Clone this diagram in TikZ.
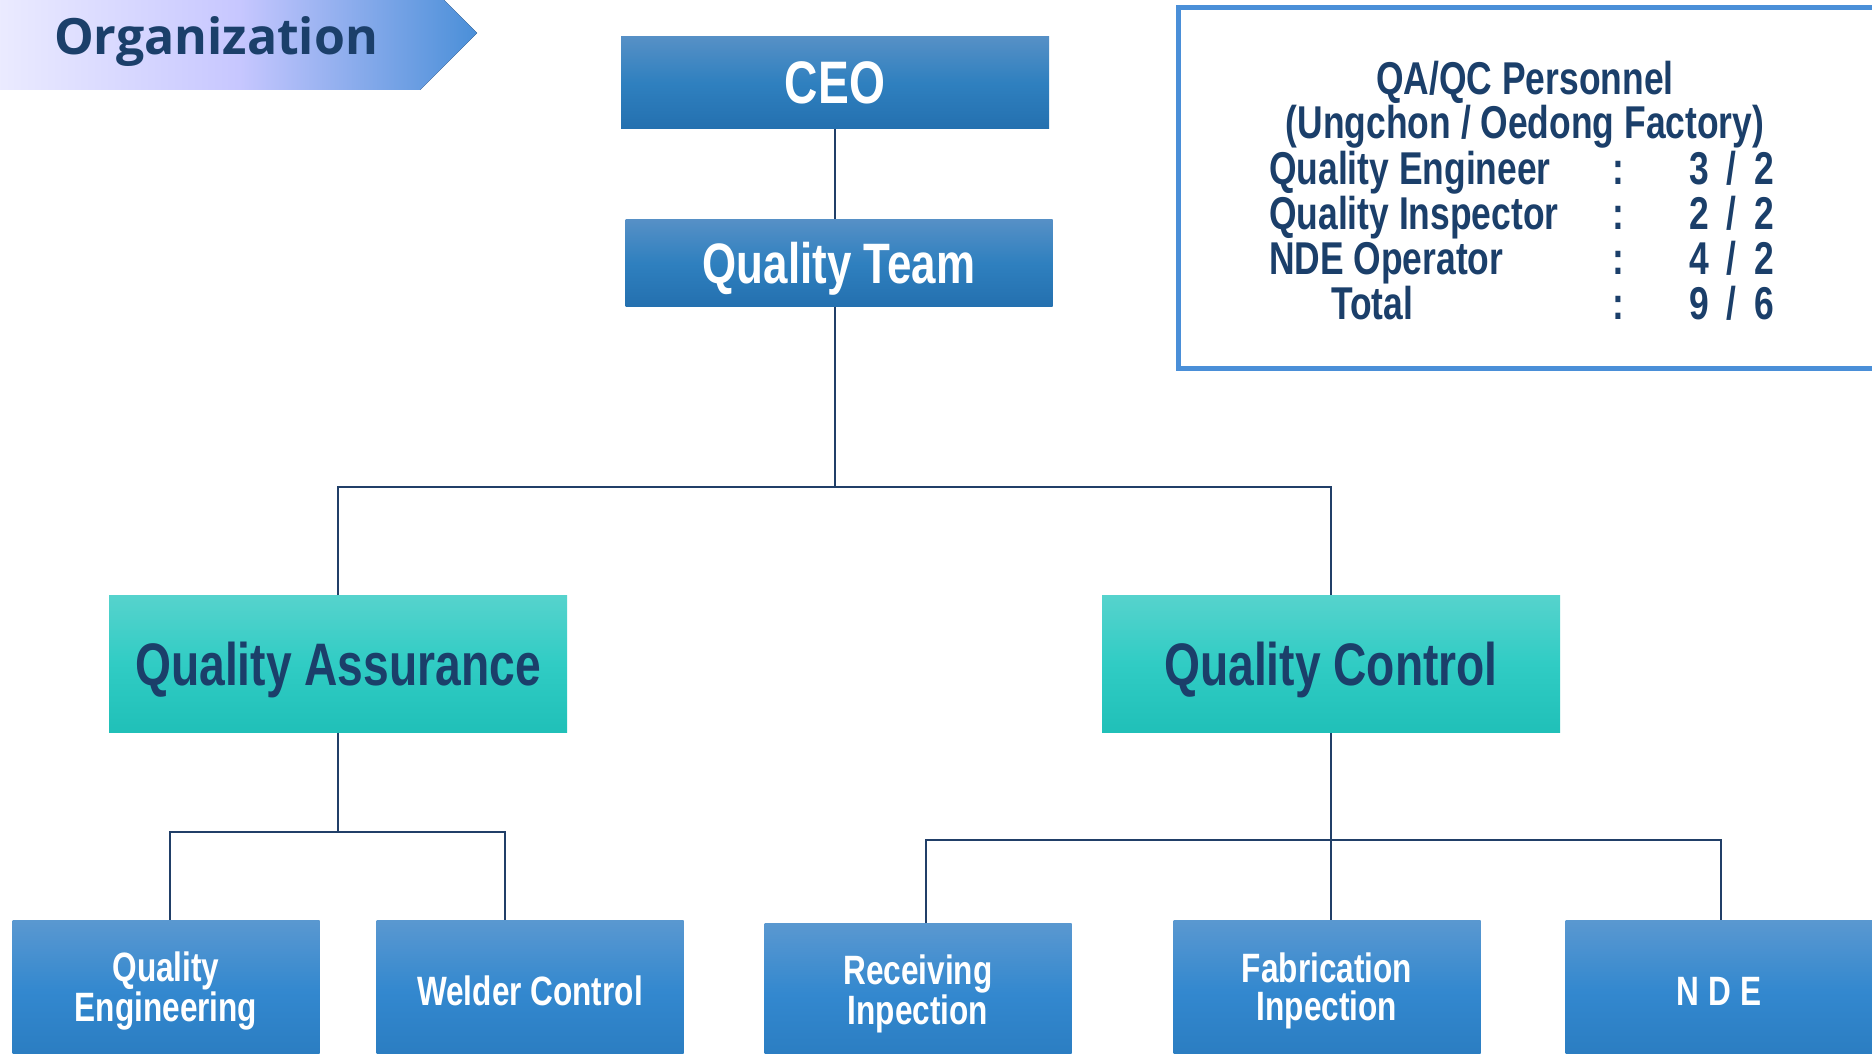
\documentclass[tikz,border=0pt]{standalone}
\usepackage{fontspec}
\setmainfont{Liberation Sans}
\newfontfamily\condfont[FakeStretch=0.77]{Liberation Sans}
\newfontfamily\bannerfont{Open Sans}
\definecolor{ink}{HTML}{1B3F6A}
\definecolor{wire}{HTML}{213F68}
\definecolor{boxtop}{HTML}{5690C6}
\definecolor{boxmid}{HTML}{2F80BF}
\definecolor{boxbot}{HTML}{2470AF}
\definecolor{subtop}{HTML}{5A98D0}
\definecolor{submid}{HTML}{3388CF}
\definecolor{subbot}{HTML}{2A7CC0}
\definecolor{tealtop}{HTML}{56D3CD}
\definecolor{tealmid}{HTML}{30CCC4}
\definecolor{tealbot}{HTML}{20C0B8}
\definecolor{frame}{HTML}{4A8FD8}
\begin{document}
\begin{tikzpicture}[x=1pt,y=-1pt,
	head/.style={inner sep=0pt, text depth=0pt, text=white, top color=boxtop, bottom color=boxbot, middle color=boxmid},
	unit/.style={inner sep=0pt, text depth=0pt, minimum width=458pt, minimum height=137pt, text=ink,
		top color=tealtop, bottom color=tealbot, middle color=tealmid, font=\condfont\bfseries\fontsize{60}{60}\selectfont},
	task/.style={inner sep=0pt, minimum width=307pt, minimum height=142pt, text=white, align=center,
		top color=subtop, bottom color=subbot, middle color=submid, font=\condfont\bfseries\fontsize{41}{38}\selectfont},
	info/.style={inner sep=0pt, text=ink, font=\condfont\bfseries\fontsize{46}{46}\selectfont},
	wire/.style={draw=wire, line width=2pt}]
	\clip (0,0) rectangle (1872,1054);
	\fill[white] (0,0) rectangle (1872,1054);
	% banner
	\fill[left color=blue!8, right color=frame, middle color=blue!22] (0,-24) -- (420,-24) -- (477,33) -- (420,90) -- (0,90) -- cycle;
	\node[anchor=base, text=ink, font=\bannerfont\bfseries\fontsize{50}{50}\selectfont] (title) at (216,55) {Organization};
	% chart
	\node[head, minimum width=428pt, minimum height=92pt, font=\condfont\bfseries\fontsize{60}{60}\selectfont] (CEO) at (835,83) {CEO};
	\node[head, minimum width=427pt, minimum height=87pt, font=\condfont\bfseries\fontsize{57}{57}\selectfont] (QT) at (839,263) {Quality Team};
	\node[unit] (QA) at (338,664) {Quality Assurance};
	\node[unit] (QC) at (1331,664) {Quality Control};
	\node[task] (QE) at (166,991) {Quality\\Engineering};
	\node[task] (WC) at (530,991) {Welder Control};
	\node[task] (RI) at (918,994) {Receiving\\Inpection};
	\node[task] (FI) at (1327,991) {Fabrication\\Inpection};
	\node[task] (NDE) at (1719,991) {N D E};
	\coordinate (hub) at (835,487);
	\coordinate (qahub) at (338,832);
	\coordinate (qchub) at (1331,840);
	\draw[wire] (CEO.south) -- (CEO.south |- QT.north) (QT.south -| hub) -- (hub);
	\draw[wire] (QA.north) |- (hub) -| (QC.north);
	\draw[wire] (QA.south) -- (qahub);
	\draw[wire] ([xshift=4pt]QE.north) |- (qahub) -| ([xshift=-25pt]WC.north);
	\draw[wire] (QC.south) -- (qchub) -- (qchub |- FI.north);
	\draw[wire] ([xshift=8pt]RI.north) |- (qchub) -| ([xshift=2pt]NDE.north);
	% personnel table
	\draw[frame, line width=5pt] (1178,8) rectangle (1890,368);
	\node[info, anchor=base] (head) at (1525,95) {QA/QC Personnel};
	\node[info, anchor=base] (site) at (1525,139) {(Ungchon / Oedong Factory)};
	\foreach \lab/\val/\lx [count=\i] in {Quality Engineer/{3 \,/\, 2}/1269, Quality Inspector/{2 \,/\, 2}/1269,
		NDE Operator/{4 \,/\, 2}/1269, Total/{9 \,/\, 6}/1331} {
		\node[info, anchor=base west] (lab\i) at (\lx,139+45*\i) {\lab};
		\node[info, anchor=base] (col\i) at (1618,139+45*\i) {:};
		\node[info, anchor=base east] (val\i) at (1774,139+45*\i) {\val};
	}
\end{tikzpicture}
\end{document}
